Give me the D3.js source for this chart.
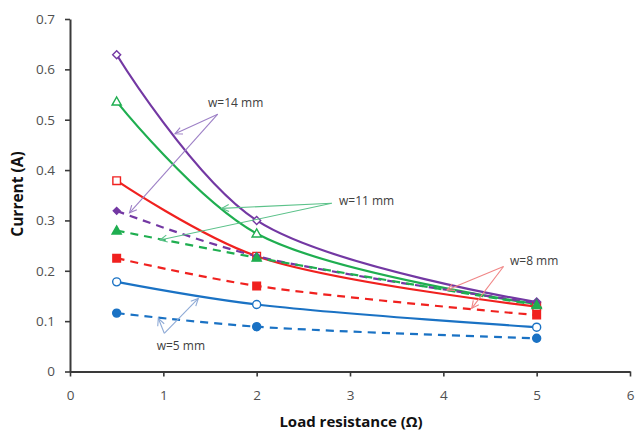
<!DOCTYPE html>
<html>
<head>
<meta charset="utf-8">
<script src="https://cdn.jsdelivr.net/npm/d3@7"></script>
<style>
  html, body { margin: 0; padding: 0; background: #fff; }
  svg { display: block; }
  text { font-family: "Open Sans", "Liberation Sans", sans-serif; }
</style>
</head>
<body>
<svg id="chart" width="635" height="433"></svg>
<script>
// Load resistance values (Ω)
const resistance = [0.5, 2, 5];

// Current (A) for each strip width; solid = open markers, dashed = filled markers
const w14Solid = [0.629, 0.300, 0.138];
const w11Solid = [0.536, 0.274, 0.134];
const w8Solid  = [0.379, 0.229, 0.129];
const w5Solid  = [0.178, 0.133, 0.088];
const w14Dash  = [0.319, 0.229, 0.136];
const w11Dash  = [0.280, 0.226, 0.132];
const w8Dash   = [0.225, 0.170, 0.112];
const w5Dash   = [0.116, 0.089, 0.066];

const xTicks = [0, 1, 2, 3, 4, 5, 6];
const yTicks = [0, 0.1, 0.2, 0.3, 0.4, 0.5, 0.6, 0.7];

// Callout labels with arrow start and two arrow ends, in data units
const callouts = [
  { label: "w=14 mm", tx: 1.479, ty: 0.533, from: [1.583, 0.511], to: [[1.125, 0.472], [0.6375, 0.315]], color: "#9d80c6" },
  { label: "w=11 mm", tx: 2.882, ty: 0.339, from: [2.804, 0.334], to: [[1.625, 0.324], [0.964, 0.261]], color: "#5cc28a" },
  { label: "w=8 mm",  tx: 4.714, ty: 0.219, from: [4.645, 0.2085], to: [[4.039, 0.162], [4.304, 0.1255]], color: "#f08585" },
  { label: "w=5 mm",  tx: 0.929, ty: 0.051, from: [1.010, 0.0759], to: [[1.375, 0.145], [0.946, 0.1056]], color: "#8eaad6" }
];

const COLORS = { purple: "#7338a3", green: "#1fae50", red: "#f0211f", blue: "#1a72c4" };

const series = [
  { values: w14Solid, color: COLORS.purple, dashed: false, shape: "diamond" },
  { values: w11Solid, color: COLORS.green,  dashed: false, shape: "triangle" },
  { values: w8Solid,  color: COLORS.red,    dashed: false, shape: "square" },
  { values: w5Solid,  color: COLORS.blue,   dashed: false, shape: "circle" },
  { values: w14Dash,  color: COLORS.purple, dashed: true,  shape: "diamond" },
  { values: w11Dash,  color: COLORS.green,  dashed: true,  shape: "triangle" },
  { values: w8Dash,   color: COLORS.red,    dashed: true,  shape: "square" },
  { values: w5Dash,   color: COLORS.blue,   dashed: true,  shape: "circle" }
];

const svg = d3.select("#chart");

const x = d3.scaleLinear().domain([0, 6]).range([70, 630]);
const y = d3.scaleLinear().domain([0, 0.7]).range([371.5, 19]);

// Axes
const axisColor = "#3a3a3a";
const yAxis = d3.axisLeft(y).tickValues(yTicks).tickSize(5).tickSizeOuter(0).tickPadding(10)
  .tickFormat(d => d === 0 ? "0" : d.toFixed(1));
const xAxis = d3.axisBottom(x).tickValues(xTicks).tickSize(5).tickSizeOuter(0).tickPadding(14)
  .tickFormat(d3.format("d"));

const gy = svg.append("g").attr("transform", `translate(${x(0)},0)`).call(yAxis);
const gx = svg.append("g").attr("transform", `translate(0,${y(0)})`).call(xAxis);
[gx, gy].forEach(g => {
  g.select(".domain").attr("stroke", axisColor).attr("stroke-width", 2);
  g.selectAll(".tick line").attr("stroke", axisColor).attr("stroke-width", 1.6);
  g.selectAll(".tick text").attr("fill", "#505050").attr("font-size", 13.5)
    .attr("font-family", "'Open Sans', sans-serif");
});

// Axis titles
svg.append("text")
  .attr("x", 351).attr("y", 427)
  .attr("text-anchor", "middle")
  .attr("font-size", 15).attr("font-weight", 700).attr("fill", "#111")
  .text("Load resistance (Ω)");

svg.append("text")
  .attr("transform", "translate(23,194) rotate(-90)")
  .attr("text-anchor", "middle")
  .attr("font-size", 15.5).attr("font-weight", 700).attr("fill", "#111")
  .text("Current (A)");

// Series lines (smoothed)
const line = d3.line()
  .x((d, i) => x(resistance[i]))
  .y(d => y(d))
  .curve(d3.curveCatmullRom.alpha(0.5));

const plot = svg.append("g");

series.forEach(s => {
  plot.append("path")
    .datum(s.values)
    .attr("d", line)
    .attr("fill", "none")
    .attr("stroke", s.color)
    .attr("stroke-width", 2.2)
    .attr("stroke-dasharray", s.dashed ? "8,6" : null);
});

// Markers: a square diamond (rotated square), triangle, square and circle
function markerPath(shape, r) {
  const p = d3.path();
  if (shape === "diamond") {
    p.moveTo(0, -r); p.lineTo(r, 0); p.lineTo(0, r); p.lineTo(-r, 0); p.closePath();
  } else if (shape === "triangle") {
    p.moveTo(0, -r); p.lineTo(r, r * 0.75); p.lineTo(-r, r * 0.75); p.closePath();
  } else if (shape === "square") {
    p.rect(-r, -r, 2 * r, 2 * r);
  } else {
    p.arc(0, 0, r, 0, 2 * Math.PI);
  }
  return p.toString();
}
const markerRadius = { diamond: 4, triangle: 4.6, square: 3.8, circle: 4 };

series.forEach(s => {
  plot.selectAll(null)
    .data(s.values)
    .enter()
    .append("path")
    .attr("transform", (d, i) => `translate(${x(resistance[i])},${y(d)})`)
    .attr("d", markerPath(s.shape, markerRadius[s.shape] * (s.dashed && s.shape === "diamond" ? 0.85 : 1)))
    .attr("fill", s.dashed ? s.color : "#fff")
    .attr("stroke", s.color)
    .attr("stroke-width", 1.4);
});

// Callouts with open arrowheads
const ann = svg.append("g");
callouts.forEach(c => {
  const x0 = x(c.from[0]), y0 = y(c.from[1]);
  c.to.forEach(t => {
    const x1 = x(t[0]), y1 = y(t[1]);
    ann.append("line")
      .attr("x1", x0).attr("y1", y0).attr("x2", x1).attr("y2", y1)
      .attr("stroke", c.color).attr("stroke-width", 1.1);
    const ang = Math.atan2(y1 - y0, x1 - x0);
    const len = 8, spread = 0.45;
    const head = d3.path();
    head.moveTo(x1 - len * Math.cos(ang - spread), y1 - len * Math.sin(ang - spread));
    head.lineTo(x1, y1);
    head.lineTo(x1 - len * Math.cos(ang + spread), y1 - len * Math.sin(ang + spread));
    ann.append("path")
      .attr("d", head.toString())
      .attr("fill", "none")
      .attr("stroke", c.color).attr("stroke-width", 1.1);
  });
  ann.append("text")
    .attr("x", x(c.tx)).attr("y", y(c.ty))
    .attr("dy", "0.35em")
    .attr("font-size", 12).attr("fill", "#404040")
    .text(c.label);
});
</script>
</body>
</html>
